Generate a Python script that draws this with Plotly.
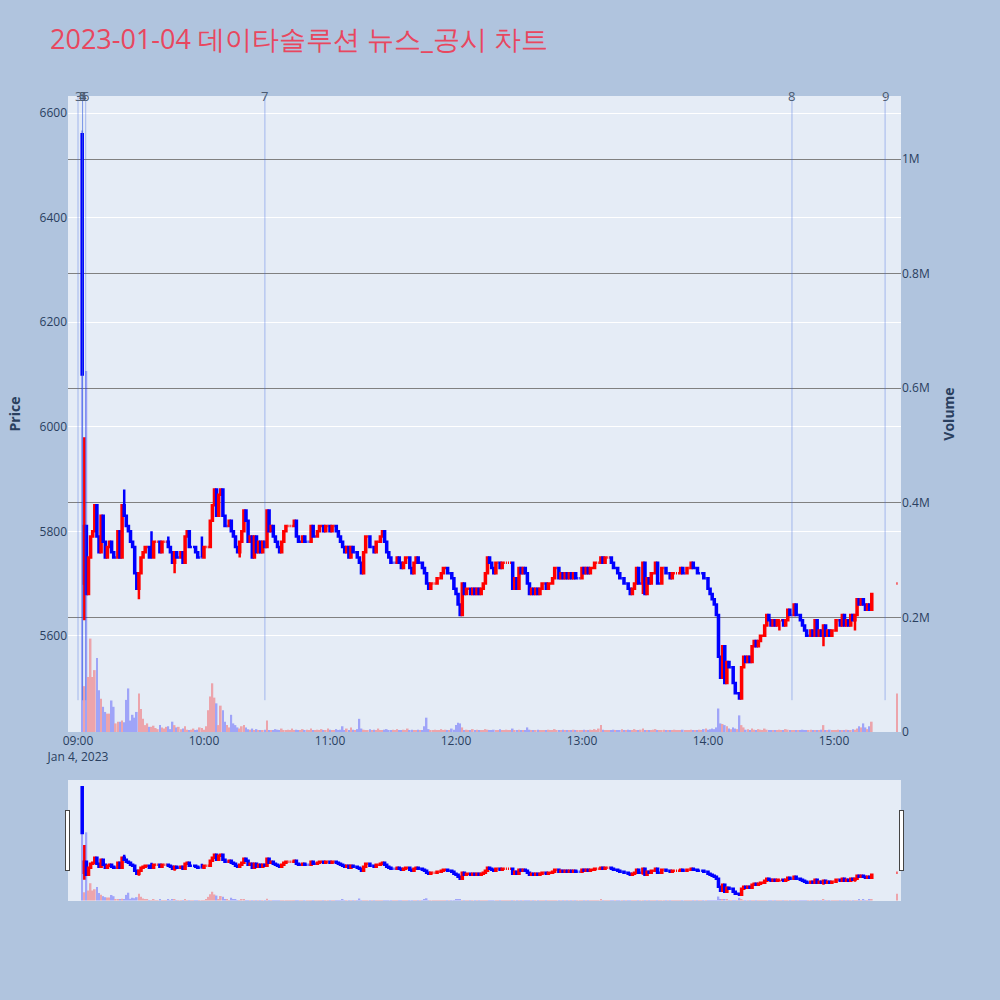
import pandas as pd
import plotly.graph_objects as go

# ---- data ----
day = "2023-01-04"
minute_offsets = list(range(2, 379)) + [390]   # minutes after 09:00 that have a candle

closes = [
    6100, 5810, 5680, 5750, 5790, 5800, 5850, 5790, 5760, 5830,
    5780, 5750, 5770, 5780, 5760, 5750, 5750, 5800, 5750, 5850,
    5830, 5810, 5800, 5780, 5770, 5720, 5690, 5720, 5750, 5760,
    5770, 5770, 5750, 5750, 5780, 5780, 5780, 5760, 5780, 5780,
    5780, 5770, 5760, 5740, 5760, 5750, 5750, 5760, 5740, 5790,
    5800, 5770, 5770, 5770, 5760, 5750, 5750, 5750, 5770, 5770,
    5770, 5820, 5850, 5880, 5830, 5870, 5880, 5830, 5810, 5810,
    5820, 5800, 5790, 5770, 5760, 5780, 5800, 5840, 5820, 5780,
    5790, 5750, 5790, 5760, 5780, 5760, 5780, 5770, 5840, 5800,
    5810, 5790, 5780, 5770, 5760, 5780, 5800, 5810, 5810, 5810,
    5810, 5820, 5790, 5780, 5780, 5790, 5780, 5780, 5780, 5810,
    5790, 5790, 5800, 5810, 5810, 5800, 5810, 5810, 5800, 5810,
    5810, 5800, 5790, 5780, 5770, 5760, 5770, 5750, 5770, 5760,
    5760, 5750, 5740, 5720, 5760, 5790, 5790, 5770, 5770, 5760,
    5780, 5780, 5790, 5800, 5780, 5760, 5750, 5740, 5740, 5740,
    5750, 5740, 5730, 5740, 5750, 5750, 5730, 5720, 5740, 5750,
    5740, 5740, 5730, 5720, 5700, 5690, 5700, 5700, 5700, 5710,
    5710, 5720, 5730, 5730, 5720, 5720, 5710, 5690, 5680, 5660,
    5640, 5700, 5680, 5690, 5690, 5680, 5690, 5680, 5690, 5680,
    5690, 5700, 5720, 5750, 5740, 5730, 5720, 5740, 5740, 5730,
    5740, 5740, 5740, 5740, 5740, 5690, 5710, 5690, 5730, 5720,
    5730, 5720, 5700, 5680, 5690, 5680, 5690, 5680, 5690, 5700,
    5700, 5690, 5700, 5700, 5710, 5730, 5730, 5710, 5720, 5710,
    5720, 5710, 5720, 5710, 5720, 5710, 5710, 5710, 5730, 5720,
    5730, 5720, 5730, 5730, 5740, 5740, 5740, 5750, 5740, 5750,
    5750, 5750, 5740, 5730, 5730, 5720, 5710, 5710, 5700, 5700,
    5690, 5680, 5690, 5700, 5730, 5700, 5700, 5740, 5680, 5710,
    5700, 5720, 5720, 5740, 5700, 5700, 5730, 5730, 5720, 5720,
    5710, 5720, 5720, 5720, 5720, 5730, 5720, 5720, 5730, 5730,
    5740, 5730, 5730, 5720, 5720, 5720, 5710, 5710, 5690, 5680,
    5670, 5660, 5640, 5560, 5520, 5580, 5510, 5550, 5540, 5540,
    5510, 5490, 5490, 5480, 5540, 5560, 5550, 5560, 5550, 5580,
    5590, 5580, 5590, 5600, 5600, 5620, 5640, 5630, 5620, 5630,
    5620, 5630, 5630, 5630, 5620, 5630, 5650, 5640, 5640, 5660,
    5640, 5640, 5630, 5620, 5610, 5600, 5600, 5610, 5600, 5630,
    5600, 5610, 5600, 5620, 5600, 5610, 5600, 5610, 5610, 5630,
    5630, 5620, 5640, 5620, 5630, 5620, 5640, 5630, 5640, 5670,
    5660, 5670, 5660, 5650, 5660, 5650, 5680,
    5700,
]

# opens equal the previous close except where the picture shows a gap
open_overrides = {2: 6560, 3: 5700, 390: 5700}
high_overrides = {3: 5980, 22: 5880, 35: 5800, 43: 5790, 59: 5790}
low_overrides = {3: 5630, 29: 5670, 46: 5720, 77: 5750, 269: 5680,
                 334: 5610, 355: 5580, 370: 5610}

volumes_k = [
    1050, 80, 630, 96, 163, 96, 108, 129, 73, 58,
    44, 35, 32, 32, 55, 44, 15, 18, 18, 20,
    17, 56, 76, 20, 30, 25, 35, 67, 40, 23,
    12, 15, 9, 9, 11, 7, 5, 12, 8, 6,
    9, 10, 5, 18, 12, 8, 9, 5, 6, 10,
    4, 3, 4, 6, 3, 4, 8, 7, 4, 10,
    38, 62, 85, 60, 50, 12, 46, 38, 18, 12,
    8, 30, 15, 12, 8, 6, 10, 12, 8, 5,
    4, 6, 3, 5, 3, 2, 3, 4, 20, 3,
    2, 3, 5, 4, 3, 6, 3, 2, 4, 3,
    6, 2, 4, 3, 2, 5, 3, 4, 2, 6,
    3, 2, 4, 3, 5, 2, 3, 6, 4, 2,
    3, 5, 2, 4, 10, 3, 6, 2, 8, 4,
    3, 5, 23, 6, 4, 3, 2, 5, 3, 4,
    2, 6, 3, 2, 4, 5, 3, 2, 4, 3,
    5, 2, 3, 4, 2, 6, 3, 4, 2, 3,
    4, 2, 3, 10, 25, 5, 3, 2, 4, 3,
    2, 5, 3, 4, 2, 3, 6, 4, 12, 16,
    15, 8, 3, 4, 2, 3, 5, 2, 4, 3,
    2, 3, 5, 4, 3, 2, 4, 3, 2, 5,
    3, 2, 4, 3, 2, 6, 3, 2, 4, 3,
    2, 3, 8, 4, 2, 3, 2, 4, 3, 2,
    3, 2, 4, 2, 3, 5, 2, 3, 2, 4,
    3, 2, 3, 2, 4, 3, 2, 3, 2, 4,
    3, 2, 4, 3, 5, 3, 6, 12, 4, 3,
    2, 3, 2, 4, 3, 2, 3, 5, 2, 3,
    4, 2, 3, 5, 3, 2, 4, 6, 3, 2,
    3, 2, 4, 5, 3, 2, 3, 4, 2, 3,
    2, 3, 4, 2, 3, 2, 4, 3, 2, 3,
    4, 3, 2, 3, 4, 3, 5, 6, 4, 5,
    6, 5, 8, 41, 15, 14, 12, 10, 6, 5,
    8, 6, 5, 29, 12, 8, 4, 5, 3, 6,
    4, 3, 5, 4, 3, 6, 4, 3, 2, 3,
    2, 3, 4, 2, 3, 5, 4, 3, 2, 3,
    2, 3, 2, 4, 3, 2, 3, 4, 2, 3,
    2, 3, 4, 12, 3, 2, 4, 3, 2, 3,
    4, 3, 2, 3, 4, 2, 3, 5, 4, 6,
    10, 8, 15, 8, 5, 10, 18,
    67,
]

news_labels = ["3", "4", "5", "6", "7", "8", "9"]
news_times = ["09:00:00", "09:02:10", "09:02:10", "09:03:40",
              "10:29:00", "14:40:00", "15:24:20"]

assert len(closes) == len(minute_offsets) == len(volumes_k)

# ---- build OHLC ----
base = pd.Timestamp(day + " 09:00:00")
times = [base + pd.Timedelta(minutes=m) for m in minute_offsets]
opens, highs, lows = [], [], []
prev = None
for m, c in zip(minute_offsets, closes):
    o = open_overrides.get(m, prev if prev is not None else c)
    opens.append(o)
    highs.append(high_overrides.get(m, max(o, c)))
    lows.append(low_overrides.get(m, min(o, c)))
    prev = c
volumes = [v * 1000 for v in volumes_k]
vol_colors = ["red" if c >= o else "blue" for o, c in zip(opens, closes)]

fig = go.Figure()
fig.add_trace(go.Candlestick(
    x=times, open=opens, high=highs, low=lows, close=closes,
    increasing=dict(line=dict(color="red", width=2.5), fillcolor="red"),
    decreasing=dict(line=dict(color="blue", width=2.5), fillcolor="blue"),
    showlegend=False, name="Price"))
fig.add_trace(go.Bar(
    x=times, y=volumes, marker=dict(color=vol_colors, line=dict(width=0)),
    opacity=0.3, yaxis="y2", showlegend=False, name="Volume"))

for lab, t in zip(news_labels, news_times):
    ts = pd.Timestamp(day + " " + t)
    fig.add_shape(type="line", xref="x", yref="paper", x0=ts, x1=ts, y0=0.05, y1=1,
                  line=dict(color="royalblue", width=1), opacity=0.4)
    fig.add_annotation(x=ts, y=1, xref="x", yref="paper", text=lab, showarrow=False,
                       yanchor="middle", font=dict(size=13, color="#4a5a70"))

fig.update_layout(
    width=1000, height=1000,
    paper_bgcolor="#B0C4DE", plot_bgcolor="#E5ECF6",
    margin=dict(l=68, r=99, t=96, b=100),
    title=dict(text="2023-01-04 데이타솔루션 뉴스_공시 차트", x=0.05, y=0.96,
               xanchor="left", yanchor="middle",
               font=dict(size=27, color="#E8475F")),
    showlegend=False,
    bargap=0.2,
    xaxis=dict(range=[pd.Timestamp(day + " 08:55:14"), pd.Timestamp(day + " 15:31:55")],
               showgrid=False, tickformat="%H:%M\n%b %-d, %Y",
               rangeslider=dict(visible=True, thickness=0.15, bgcolor="#E5ECF6")),
    yaxis=dict(title=dict(text="Price", font=dict(size=14, weight="bold")),
               range=[5416, 6633], showgrid=True, gridcolor="white", zeroline=False),
    yaxis2=dict(title=dict(text="Volume", font=dict(size=14, weight="bold")),
                overlaying="y", side="right", range=[0, 1.11e6],
                showgrid=True, gridcolor="gray", zeroline=False),
)

fig.write_html("out.html", config={"displayModeBar": False},
               post_script="document.body.style.margin='0px';")
